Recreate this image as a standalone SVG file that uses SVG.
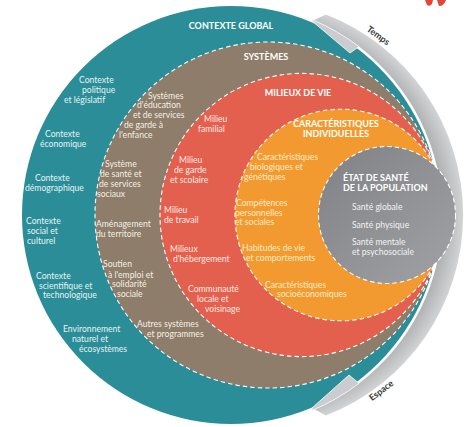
<svg xmlns="http://www.w3.org/2000/svg" width="474" height="427" viewBox="0 0 474 427">
<defs>
<radialGradient id="bandGrad" gradientUnits="userSpaceOnUse" cx="248" cy="215" r="215">
<stop offset="0.8" stop-color="#9a9c9f"/>
<stop offset="0.92" stop-color="#b3b5b7"/>
<stop offset="1" stop-color="#d2d3d5"/>
</radialGradient>
<linearGradient id="healthGrad" x1="0" y1="0" x2="1" y2="1">
<stop offset="0" stop-color="#7f8185"/>
<stop offset="1" stop-color="#a0a2a5"/>
</linearGradient>
<style>
.t{font-family:Lato,"Open Sans","Liberation Sans",sans-serif;font-size:8.6px}
.h{font-family:Lato,"Open Sans","Liberation Sans",sans-serif;font-size:9px;font-weight:700;fill:#ffffff;text-anchor:middle}
.hl{font-family:Lato,"Open Sans","Liberation Sans",sans-serif;font-size:9px;font-weight:700;fill:#ffffff}
.ax{font-family:Lato,"Open Sans","Liberation Sans",sans-serif;font-size:9px;font-weight:700;fill:#3b3b3b;text-anchor:middle}
.dash{fill:none;stroke:#ffffff;stroke-width:1.1;stroke-dasharray:4.5 3}
.teal{fill:#e6f3f4}
.brown{fill:#f6efe4}
.red{fill:#ffe9e2}
.orange{fill:#fdebc8}
.grey{fill:#f2f2f2}
.head{fill:#cbcccf;stroke:#ffffff;stroke-width:0.8}
</style>
</defs>
<rect width="474" height="427" fill="#ffffff"/>
<path d="M425,0 L433,0 L432,4 Q430,7 427,5 Z M437,0 L446,0 Q444,6 439,6 Z" fill="#e0463a"/>
<g id="connectors">
<path id="time-space-band" d="M312,21 L326,14.6 A215,215 0 0 1 326,415.4 L312,408 L349,375 L359,383.4 A211.5,211.5 0 0 0 359,46.6 L350,53 Z" fill="url(#bandGrad)"/>
</g>
<g id="contexte-global">
<circle cx="231" cy="215" r="209" fill="#2b8d97"/>
<text class="h" x="231" y="29">CONTEXTE GLOBAL</text>
<g class="t teal">
<text x="79" y="83">Contexte</text><text x="82" y="93">politique</text><text x="64" y="103">et législatif</text>
<text x="45" y="137">Contexte</text><text x="40" y="147">économique</text>
<text x="35" y="181">Contexte</text><text x="25" y="191">démographique</text>
<text x="26" y="224">Contexte</text><text x="27" y="234">social et</text><text x="27" y="244">culturel</text>
<text x="36" y="279">Contexte</text><text x="39" y="289">scientifique et</text><text x="43" y="298">technologique</text>
<text x="63" y="332">Environnement</text><text x="72" y="342">naturel et</text><text x="79" y="352">écosystèmes</text>
</g>
</g>
<g id="systemes">
<circle cx="268" cy="215" r="173" fill="#8d7d6a"/>
<circle class="dash" cx="268" cy="215" r="173"/>
<text class="h" x="266" y="60">SYSTÈMES</text>
<g class="t brown">
<text x="148" y="99">Systèmes</text><text x="137" y="108">d'éducation</text><text x="133" y="118">et de services</text><text x="124" y="128">de garde à</text><text x="119" y="138">l'enfance</text>
<text x="105" y="167">Système</text><text x="100" y="177">de santé et</text><text x="99" y="187">de services</text><text x="97" y="197">sociaux</text>
<text x="96" y="227">Aménagement</text><text x="96" y="237">du territoire</text>
<text x="103" y="267">Soutien</text><text x="108" y="278">à l'emploi et</text><text x="112" y="287">solidarité</text><text x="117" y="297">sociale</text>
<text x="137" y="327">Autres systèmes</text><text x="147" y="337">et programmes</text>
</g>
</g>
<g id="milieux-de-vie">
<circle cx="301.6" cy="215" r="141.6" fill="#e4604e"/>
<circle class="dash" cx="301.6" cy="215" r="141.6"/>
<text class="h" x="298" y="96">MILIEUX DE VIE</text>
<g class="t red">
<text x="204" y="122">Milieu</text><text x="198" y="132">familial</text>
<text x="179" y="163">Milieu</text><text x="174" y="173">de garde</text><text x="170" y="183">et scolaire</text>
<text x="164" y="213">Milieu</text><text x="164" y="223">de travail</text>
<text x="170" y="252">Milieux</text><text x="173" y="262">d'hébergement</text>
<text x="188" y="292">Communauté</text><text x="197" y="302">locale et</text><text x="205" y="312">voisinage</text>
</g>
</g>
<g id="caracteristiques-individuelles">
<circle cx="340.8" cy="215" r="105.8" fill="#f29a2f"/>
<circle class="dash" cx="340.8" cy="215" r="105.8"/>
<text class="h" x="336" y="127">CARACTÉRISTIQUES</text>
<text class="h" x="336" y="137">INDIVIDUELLES</text>
<g class="t orange">
<text x="257" y="160">Caractéristiques</text><text x="250" y="170">biologiques et</text><text x="244" y="180">génétiques</text>
<text x="236" y="206">Compétences</text><text x="235" y="216">personnelles</text><text x="235" y="225">et sociales</text>
<text x="242" y="251">Habitudes de vie</text><text x="246" y="261">et comportements</text>
<text x="265" y="288">Caractéristiques</text><text x="277" y="297">socioéconomiques</text>
</g>
</g>
<g id="etat-de-sante">
<circle cx="387" cy="215" r="68.5" fill="url(#healthGrad)"/>
<circle class="dash" cx="387" cy="215" r="68.5"/>
<text class="hl" x="343" y="181">ÉTAT DE SANTÉ</text>
<text class="hl" x="343" y="191">DE LA POPULATION</text>
<g class="t grey">
<text x="352" y="210">Santé globale</text>
<text x="352" y="228">Santé physique</text>
<text x="352" y="245">Santé mentale</text><text x="352" y="255">et psychosociale</text>
</g>
</g>
<g id="connector-heads">
<path class="head" d="M312,21 L350,53 L359,46.6 A211.5,211.5 0 0 0 312,19.6 Z"/>
<path class="head" d="M312,408 L349,375 L359,383.4 A211.5,211.5 0 0 1 312,410.4 Z"/>
<text class="ax" transform="translate(376.5,38) rotate(36)">Temps</text>
<text class="ax" transform="translate(383,393) rotate(-37)">Espace</text>
</g>
</svg>
